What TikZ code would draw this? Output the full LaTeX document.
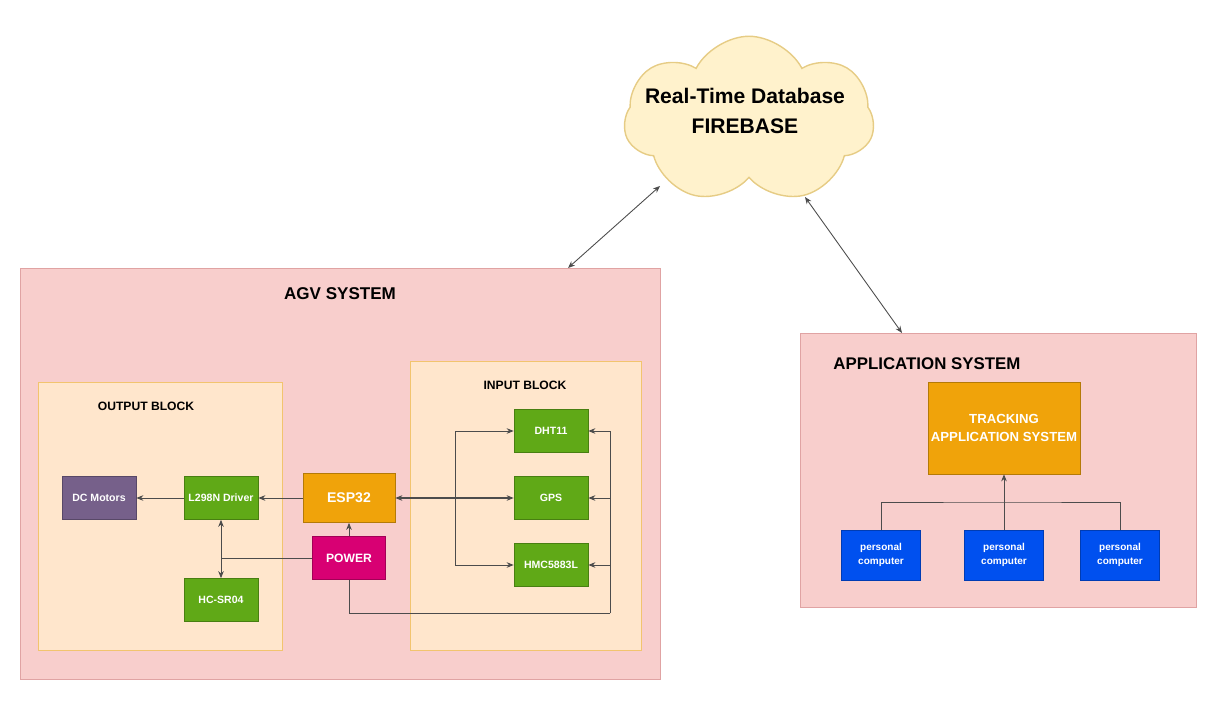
\documentclass[tikz,border=0pt]{standalone}
\usepackage{fontspec}
\setmainfont{Liberation Sans}
\usepackage{tikz}
\usetikzlibrary{shapes.symbols}
\usetikzlibrary{arrows.meta}

\definecolor{sysfill}{HTML}{F8CECC}
\definecolor{sysline}{HTML}{E0A3A3}
\definecolor{blkfill}{HTML}{FFE6CC}
\definecolor{blkline}{HTML}{F2C46E}
\definecolor{cloudfill}{HTML}{FFF2CC}
\definecolor{cloudline}{HTML}{E6CC85}
\definecolor{greenpart}{HTML}{60A917}
\definecolor{violetpart}{HTML}{76608A}
\definecolor{orangepart}{HTML}{F0A30A}
\definecolor{pinkpart}{HTML}{D80073}
\definecolor{bluepart}{HTML}{0050EF}

\begin{document}
\begin{tikzpicture}[x=0.02cm, y=-0.02cm,
        system/.style={draw=sysline, fill=sysfill, thick, anchor=north west},
        block/.style={draw=blkline, fill=blkfill, thick, anchor=north west},
        part/.style={draw=#1!75!black, fill=#1, text=white, align=center, inner sep=1pt,
            font=\bfseries\fontsize{6}{7}\selectfont, minimum width=1.48cm, minimum height=0.86cm},
        title/.style={font=\bfseries\fontsize{#1}{#1}\selectfont, inner sep=0pt},
        wire/.style={draw=black!70, line width=0.5pt},
        arr/.style={wire, -{Stealth[length=4pt, width=3.2pt]}},
        biarr/.style={wire, {Stealth[length=4pt, width=3.2pt]}-{Stealth[length=4pt, width=3.2pt]}}]
    \useasboundingbox (0, 0) rectangle (1214, 706);
    % frames
    \node[system, minimum width=12.8cm, minimum height=8.22cm] (agv) at (20, 268) {};
    \node[system, minimum width=7.92cm, minimum height=5.48cm] (app) at (800, 333) {};
    \node[block, minimum width=4.88cm, minimum height=5.36cm] (outblk) at (38, 382) {};
    \node[block, minimum width=4.62cm, minimum height=5.78cm] (inblk) at (410, 361) {};
    \node[title=9.7] (agvt) at (340, 294) {AGV SYSTEM};
    \node[title=9.6, anchor=west] (appt) at (833, 364) {APPLICATION SYSTEM};
    \node[title=6.9] (outt) at (146, 406) {OUTPUT BLOCK};
    \node[title=6.9] (int) at (525, 385) {INPUT BLOCK};
    % cloud
    \node[cloud, draw=cloudline, fill=cloudfill, thick, cloud puffs=7, cloud puff arc=125,
        cloud ignores aspect, inner sep=0pt, minimum width=5.0cm, minimum height=3.35cm] (db) at (749, 120) {};
    \node[align=center, font=\bfseries\fontsize{12}{17}\selectfont] (dbt) at (745, 111) {Real-Time Database\\FIREBASE};
    \coordinate (dbl) at (660, 186);
    \coordinate (dbr) at (805, 197);
    \coordinate (agvin) at (568, 268);
    \coordinate (appin) at (902, 333);
    \draw[biarr] (dbl) -- (agvin);
    \draw[biarr] (dbr) -- (appin);
    % parts
    \node[part=violetpart] (dcm) at (99, 498) {DC Motors};
    \foreach \n/\x/\y/\t in {l298/221/498/L298N Driver, hcsr/221/600/HC-SR04,
            dht/551/431/DHT11, gps/551/498/GPS, hmc/551/565/HMC5883L}
        \node[part=greenpart] (\n) at (\x, \y) {\t};
    \node[part=orangepart, minimum width=1.84cm, minimum height=0.98cm,
        font=\bfseries\fontsize{8}{9}\selectfont] (esp) at (349, 498) {ESP32};
    \node[part=pinkpart, minimum width=1.46cm, font=\bfseries\fontsize{6.9}{8}\selectfont] (power) at (349, 558) {POWER};
    \node[part=orangepart, minimum width=3.04cm, minimum height=1.84cm,
        font=\bfseries\fontsize{7.5}{10.2}\selectfont] (track) at (1004, 428) {TRACKING\\APPLICATION SYSTEM};
    \foreach \n/\x in {pc1/881, pc2/1004, pc3/1120}
        \node[part=bluepart, minimum width=1.58cm, minimum height=1.0cm,
            font=\bfseries\fontsize{5.7}{8}\selectfont] (\n) at (\x, 555) {personal\\computer};
    % output side
    \draw[arr] (esp) -- (l298);
    \draw[arr] (l298) -- (dcm);
    \coordinate (pj) at (221, 558);
    \draw[wire] (power) -- (pj);
    \draw[arr] (pj) -- (l298);
    \draw[arr] (pj) -- (hcsr);
    \draw[arr] (power) -- (esp);
    % input side
    \coordinate (busl) at (455, 498);
    \draw[biarr, line width=0.9pt] (esp) -- (gps);
    \draw[arr] (busl) |- (dht);
    \draw[arr] (busl) |- (hmc);
    \coordinate (busr) at (610, 613);
    \draw[wire] (power) -- (power |- busr) -- (busr);
    \foreach \n in {dht, gps, hmc}
        \draw[arr] (busr) |- (\n);
    % application side
    \coordinate (pcbus) at (1004, 502);
    \draw[arr] (pc2) -- (track);
    \draw[wire] (pc1) |- (pcbus) -| (pc3);
\end{tikzpicture}
\end{document}
